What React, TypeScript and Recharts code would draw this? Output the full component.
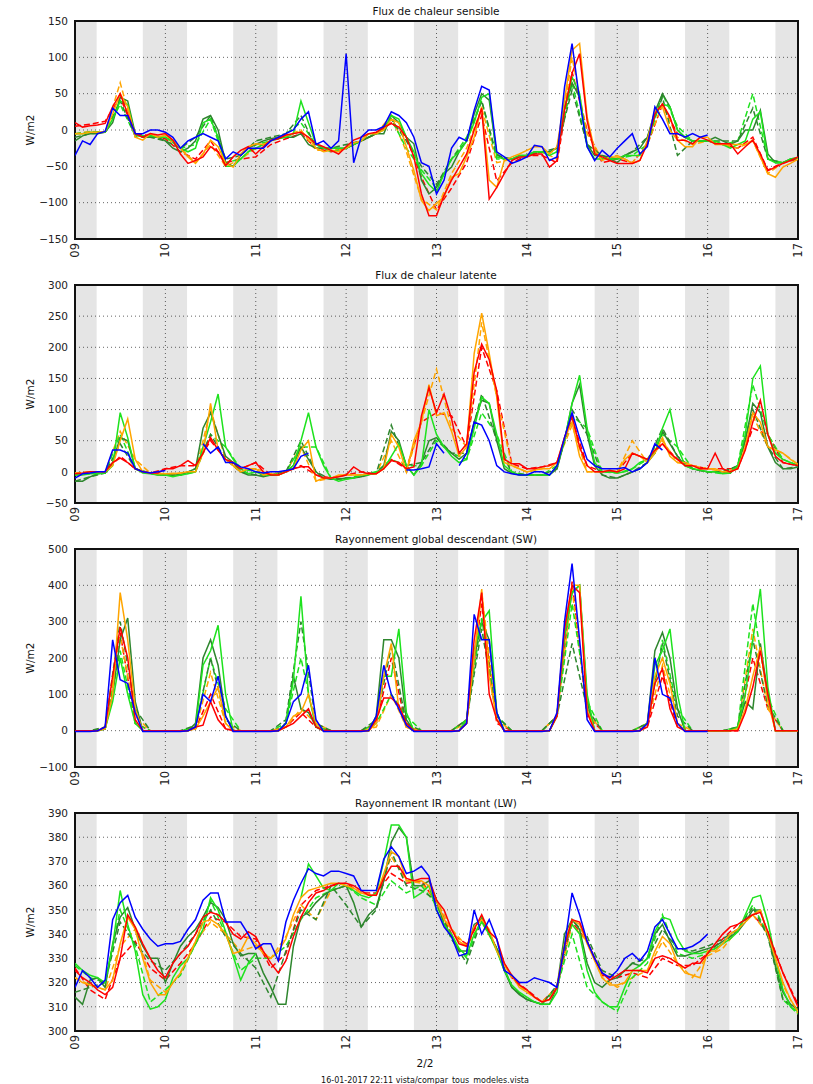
import React from "react";
import { CartesianGrid, Line, LineChart, ReferenceArea, XAxis, YAxis } from "recharts";

const _ = null;

// time axis (days of the month)
const dayTicks = [9, 10, 11, 12, 13, 14, 15, 16, 17];
const dayLabels = ["09", "10", "11", "12", "13", "14", "15", "16", "17"];
const nightStart = [9, 9.75, 10.75, 11.75, 12.75, 13.75, 14.75, 15.75, 16.75];
const nightEnd = [9.24, 10.24, 11.24, 12.24, 13.24, 14.24, 15.24, 16.24, 17];

// sample spacing of the series (2 h for solid lines, 4 h for dashed ones)
const STEP2 = 1 / 12;
const STEP4 = 1 / 6;

// ---------- Flux de chaleur sensible ----------
const sensTicks = [-150, -100, -50, 0, 50, 100, 150];
const sensBlue = [
  -35, -15, -20, -5, -2, 30, 20, 20, -5, -5, 0, 0,
  -3, -10, -25, -15, -10, -5, -10, -15, -40, -30, -35, -25,
  -25, -25, -15, -10, -5, 0, 15, 25, -20, -15, -25, -15,
  105, -45, -10, 0, 0, 5, 25, 20, 10, -10, -45, -50,
  -88, -69, -25, -10, -15, 27, 60, 55, -30, -37, -46, -42,
  -37, -21, -23, -42, -37, 59, 119, 41, -23, -42, -28, -37,
  -25, -15, -5, -33, -23, 32, 15, -5, -5, -10, -5, -10,
  -7,
];
const sensRed = [
  10, 4, 6, 7, 9, 32, 50, 22, -5, -10, -5, -7,
  -5, -14, -33, -46, -42, -37, -23, -30, -49, -37, -28, -23,
  -33, -23, -14, -12, -7, -5, -3, -10, -19, -23, -28, -33,
  -23, -14, -10, -5, -3, 4, 9, 4, -10, -37, -88, -118,
  -118, -90, -69, -51, -33, 0, 30, -95, -79, -60, -42, -37,
  -37, -33, -33, -51, -42, 27, 78, 105, 13, -33, -37, -42,
  -46, -46, -46, -42, -19, 22, 36, 18, -14, -14, -19, -10,
  -14, -19, -19, -19, -33, -23, -14, -33, -56, -51, -46, -42,
  -37,
];
const sensOrange = [
  -5, -5, -3, -3, -2, 22, 50, 32, -10, -14, -5, -10,
  -7, -14, -25, -37, -46, -33, -14, -23, -46, -51, -33, -23,
  -19, -20, -15, -10, -8, -5, -2, -10, -25, -30, -28, -30,
  -25, -18, -15, -5, -5, 0, 15, 10, -23, -56, -97, -111,
  -101, -92, -65, -60, -37, -10, 32, -69, -79, -42, -37, -33,
  -28, -23, -23, -33, -23, 41, 110, 119, 18, -28, -42, -37,
  -37, -40, -46, -42, -14, 27, 32, 0, -14, -23, -23, -10,
  -10, -20, -20, -20, -20, -20, -14, -37, -60, -65, -51, -46,
  -40,
];
const sensLime = [
  -5, -5, -3, -3, -3, 15, 40, 35, -8, -8, -8, -10,
  -10, -15, -25, -30, -25, 10, 15, -10, -50, -50, -40, -30,
  -25, -20, -15, -12, -10, -5, 40, 10, -20, -25, -25, -25,
  -25, -20, -15, -5, -5, 0, 20, 15, -10, -30, -60, -75,
  -85, -60, -40, -30, -15, 10, 45, 50, -37, -40, -40, -35,
  -35, -30, -30, -35, -30, 30, 73, 50, -23, -40, -40, -40,
  -40, -35, -35, -35, -20, 20, 36, 32, 0, -10, -15, -15,
  -15, -15, -20, -25, -20, -15, 15, 25, -40, -45, -45, -40,
  -38,
];
const sensDarkGreen = [
  -15, -8, -5, -5, -3, 10, 45, 40, -5, -10, -10, -10,
  -15, -25, -30, -25, -15, 15, 20, 0, -45, -50, -35, -25,
  -20, -15, -12, -10, -10, -10, -5, -20, -25, -25, -25, -25,
  -25, -20, -15, -10, -5, -5, 20, 10, -10, -19, -69, -88,
  -79, -60, -51, -30, -15, 22, 50, 41, -33, -40, -40, -35,
  -35, -30, -30, -30, -25, 30, 65, 45, -20, -35, -35, -40,
  -45, -35, -30, -25, -10, 25, 50, 32, 0, -10, -15, -15,
  -15, -10, -15, -20, -15, 0, 0, 27, -33, -45, -45, -40,
  -38,
];
const sensRedD = [
  5, 8, 12, 45, -5, -8,
  -12, -30, -40, -15, -45, -40,
  -37, -20, -12, -5, -25, -30,
  -25, -15, -5, 10, -10, -65,
  -110, -80, -45, 20, -70, -45,
  -35, -35, -45, 80, 0, -45,
  -40, -45, -20, 35, -5, -15,
  -15, -20, -25, -10, -55, -45,
  -40,
];
const sensOrangeD = [
  -5, -2, -3, 65, -10, -8,
  -10, -25, -45, -20, -50, -40,
  -25, -15, -8, 0, -28, -28,
  -25, -15, -5, 20, -30, -95,
  -110, -60, -25, 30, -45, -40,
  -35, -30, -40, 100, -5, -40,
  -35, -45, -20, 35, -10, -20,
  -15, -20, -25, -15, -60, -45,
  -38,
];
const sensLimeD = [
  -5, -3, -3, 35, -8, -8,
  -10, -25, -20, 15, -45, -40,
  -20, -15, -5, 10, -20, -30,
  -25, -15, -5, 15, -25, -55,
  -80, -40, -10, 40, -40, -40,
  -35, -30, -30, 65, -20, -40,
  -40, -35, -20, 50, 5, -15,
  -15, -20, -15, 50, -40, -45,
  -38,
];
const sensDarkGreenD = [
  -10, -5, -3, 40, -8, -10,
  -15, -25, -10, 20, -40, -35,
  -15, -10, -5, 20, -25, -25,
  -20, -15, -5, 15, -15, -50,
  -75, -40, -15, 40, -35, -40,
  -35, -30, -25, 55, -20, -35,
  -40, -30, -10, 45, -35, -15,
  -15, -15, -15, 30, -40, -45,
  -38,
];

// ---------- Flux de chaleur latente ----------
const latTicks = [-50, 0, 50, 100, 150, 200, 250, 300];
const latBlue = [
  -10, -3, -2, 0, 0, 35, 35, 30, 5, 0, -2, 0,
  2, _, _, _, _, 45, 30, 40, 15, 15, 8, 5,
  0, -2, 0, 0, 2, 5, 25, 30, _, _, _, _,
  _, _, _, _, _, _, _, _, 3, 3, 5, 8,
  45, 30, _, 10, 30, 80, 75, 50, 10, 0, -3, -5,
  -5, 0, 0, -5, 10, 55, 95, 55, 20, 10, 5, 5,
  5, 7, 0, 5, 15, 45, 35,
];
const latRed = [
  -3, -2, 0, 0, 0, 15, 22, 15, 5, 0, -2, -2,
  5, 5, 10, 18, 10, 30, 55, 35, 20, 15, 5, 10,
  15, 0, -5, -5, 0, 5, 8, 8, -5, -10, -10, -8,
  -5, 8, 0, -3, -3, 5, 18, 15, 5, 8, 90, 135,
  95, 125, 85, 30, 45, 160, 205, 180, 130, 20, 13, 13,
  5, 5, 8, 10, 15, 55, 90, 40, 10, 0, 0, 2,
  0, 5, 30, 25, 20, 35, 45, 30, 20, 10, 10, 5,
  5, 30, 5, 0, 5, 35, 80, 115, 60, 25, 15, 12,
  10,
];
const latOrange = [
  -2, -3, 0, 0, 0, 10, 50, 85, 20, 0, -2, -3,
  -3, -3, -2, 0, 0, 30, 110, 35, 20, 10, 0, 5,
  5, -5, -3, -5, 0, 5, 35, 50, -15, -10, -10, -5,
  -5, -5, -5, -3, -3, 5, 60, 40, 0, 50, 80, 140,
  90, 95, 65, 25, 40, 190, 255, 190, 120, 15, 10, 5,
  0, 3, 5, 5, 15, 55, 80, 25, 0, 0, 0, 3,
  0, 20, 30, 25, 15, 30, 55, 25, 15, 15, 10, 5,
  5, 5, 0, 0, 5, 40, 95, 80, 40, 35, 30, 20,
  12,
];
const latLime = [
  -5, -5, -3, -3, -2, 10, 95, 55, 5, -2, -3, -5,
  -5, -8, -5, -3, 0, 40, 80, 125, 40, 20, 5, -3,
  0, -5, -5, -5, 0, 10, 50, 95, 40, 10, -10, -15,
  -12, -10, -5, -5, 0, 5, 25, 45, 10, -5, 10, 100,
  60, 40, 25, 15, 20, 70, 120, 110, 60, 10, 0, -5,
  -5, -5, -5, -5, 10, 50, 110, 155, 70, 15, 0, 0,
  -2, 0, 5, 15, 20, 30, 70, 100, 40, 10, 5, 3,
  0, 0, -3, -2, 10, 60, 150, 170, 60, 30, 20, 15,
  10,
];
const latDarkGreen = [
  -15, -15, -8, -3, -2, 15, 55, 50, 5, 0, -2, -5,
  -5, -5, -5, 0, 5, 70, 95, 60, 25, 15, 0, -5,
  -5, -8, -5, -5, 0, 10, 40, 20, 0, -10, -12, -12,
  -10, -10, -8, -3, -2, 10, 65, 50, 10, -5, 15, 50,
  55, 40, 30, 20, 30, 80, 115, 110, 50, 5, -2, -5,
  -5, -5, -5, -5, 5, 50, 110, 140, 60, 10, -5, -10,
  -10, -5, 0, 5, 15, 30, 65, 45, 25, 10, 5, 2,
  0, 0, 0, -2, 10, 50, 110, 95, 40, 15, 5, 5,
  8,
];
const latRedD = [
  -3, 0, 0, 25, 5, -2,
  5, 10, 10, 50, 20, 5,
  15, -5, 0, 10, -5, -10,
  -5, 0, -3, 20, 5, 80,
  95, 90, 40, 200, 130, 13,
  5, 8, 15, 85, 10, 0,
  0, 30, 20, 45, 20, 10,
  5, 5, 5, 70, 60, 15,
  10,
];
const latOrangeD = [
  -2, 0, 0, 65, 20, -2,
  -3, -2, 0, 100, 20, 0,
  5, -3, 0, 40, -15, -10,
  -5, -5, -3, 50, 0, 80,
  165, 70, 40, 240, 120, 10,
  0, 5, 15, 75, 0, 0,
  0, 50, 15, 50, 15, 10,
  5, 0, 5, 90, 40, 30,
  12,
];
const latLimeD = [
  -5, -3, -2, 60, 5, -3,
  -5, -5, 0, 60, 40, 5,
  0, -5, 0, 40, 40, -10,
  -12, -5, 0, 20, 10, 10,
  50, 30, 20, 95, 60, 0,
  -5, -5, 10, 90, 70, 0,
  -2, 5, 20, 60, 40, 5,
  0, -3, 10, 140, 60, 20,
  10,
];
const latDarkGreenD = [
  -15, -8, -2, 45, 5, -2,
  -5, -5, 5, 60, 20, 0,
  -5, -5, 0, 50, 0, -12,
  -10, -8, -2, 75, 10, 15,
  55, 30, 30, 125, 50, -2,
  -5, -5, 5, 100, 60, -5,
  -10, 0, 15, 70, 25, 5,
  0, 0, 10, 100, 40, 5,
  8,
];

// ---------- Rayonnement global descendant (SW) ----------
const swTicks = [-100, 0, 100, 200, 300, 400, 500];
const swBlue = [
  -2, -2, -2, 0, 10, 250, 140, 130, 50, -2, -2, -2,
  -2, -2, -2, 0, 10, 100, 80, 150, 40, -2, -2, -2,
  -2, -2, -2, 0, 20, 80, 100, 180, 30, -2, -2, -2,
  -2, -2, -2, 0, 40, 180, 100, 60, 15, -2, -2, -2,
  -2, -2, -2, 0, 20, 320, 250, 250, 50, -2, -2, -2,
  -2, -2, -2, 0, 50, 300, 460, 250, 30, -2, -2, -2,
  -2, -2, -2, 0, 20, 200, 100, 90, 20, -2, -2, -2,
  -2,
];
const swRed = [
  0, 0, 0, 0, 10, 150, 285, 200, 30, 0, 0, 0,
  0, 0, 0, 0, 10, 15, 80, 30, 5, 0, 0, 0,
  0, 0, 0, 0, 10, 20, 40, 60, 10, 0, 0, 0,
  0, 0, 0, 0, 30, 90, 90, 70, 20, 0, 0, 0,
  0, 0, 0, 0, 20, 250, 380, 100, 30, 0, 0, 0,
  0, 0, 0, 0, 40, 280, 400, 380, 50, 0, 0, 0,
  0, 0, 0, 0, 10, 130, 170, 60, 10, 0, 0, 0,
  0, 0, 0, 0, 0, 50, 120, 220, 100, 0, 0, 0,
  0,
];
const swOrange = [
  0, 0, 0, 0, 5, 100, 380, 250, 60, 0, 0, 0,
  0, 0, 0, 0, 5, 40, 80, 120, 20, 0, 0, 0,
  0, 0, 0, 0, 10, 40, 50, 100, 20, 0, 0, 0,
  0, 0, 0, 0, 20, 150, 240, 60, 10, 0, 0, 0,
  0, 0, 0, 0, 20, 200, 390, 150, 30, 0, 0, 0,
  0, 0, 0, 0, 40, 280, 400, 400, 60, 0, 0, 0,
  0, 0, 0, 0, 20, 150, 200, 130, 20, 0, 0, 0,
  0, 0, 0, 0, 5, 60, 150, 230, 80, 0, 0, 0,
  0,
];
const swLime = [
  0, 0, 0, 0, 5, 80, 200, 100, 20, 0, 0, 0,
  0, 0, 0, 0, 10, 180, 220, 290, 100, 0, 0, 0,
  0, 0, 0, 0, 20, 140, 370, 100, 10, 0, 0, 0,
  0, 0, 0, 0, 30, 150, 150, 280, 50, 0, 0, 0,
  0, 0, 0, 0, 30, 220, 300, 330, 50, 0, 0, 0,
  0, 0, 0, 0, 40, 260, 380, 400, 100, 0, 0, 0,
  0, 0, 0, 0, 20, 180, 220, 280, 100, 0, 0, 0,
  0, 0, 0, 0, 10, 100, 250, 390, 120, 0, 0, 0,
  0,
];
const swDarkGreen = [
  0, 0, 0, 0, 5, 100, 250, 310, 80, 0, 0, 0,
  0, 0, 0, 0, 20, 200, 250, 180, 40, 0, 0, 0,
  0, 0, 0, 0, 20, 150, 60, 50, 10, 0, 0, 0,
  0, 0, 0, 0, 40, 250, 250, 200, 30, 0, 0, 0,
  0, 0, 0, 0, 30, 200, 300, 250, 50, 0, 0, 0,
  0, 0, 0, 0, 40, 260, 380, 400, 80, 0, 0, 0,
  0, 0, 0, 0, 20, 220, 270, 200, 60, 0, 0, 0,
  0, 0, 0, 0, 10, 80, 60, 240, 100, 0, 0, 0,
  0,
];
const swRedD = [
  0, 0, 5, 270, 20, 0,
  0, 0, 5, 100, 5, 0,
  0, 0, 10, 50, 10, 0,
  0, 0, 20, 200, 10, 0,
  0, 0, 30, 350, 20, 0,
  0, 0, 40, 410, 40, 0,
  0, 0, 10, 150, 10, 0,
  0, 0, 0, 200, 60, 0,
  0,
];
const swOrangeD = [
  0, 0, 5, 260, 40, 0,
  0, 0, 5, 160, 20, 0,
  0, 0, 10, 60, 20, 0,
  0, 0, 10, 100, 10, 0,
  0, 0, 20, 380, 30, 0,
  0, 0, 40, 390, 50, 0,
  0, 0, 20, 180, 20, 0,
  0, 0, 5, 280, 60, 0,
  0,
];
const swLimeD = [
  0, 0, 5, 220, 20, 0,
  0, 0, 10, 200, 60, 0,
  0, 0, 20, 200, 10, 0,
  0, 0, 20, 100, 40, 0,
  0, 0, 30, 310, 40, 0,
  0, 0, 40, 350, 80, 0,
  0, 0, 20, 250, 60, 0,
  0, 0, 10, 350, 90, 0,
  0,
];
const swDarkGreenD = [
  0, 0, 10, 300, 60, 0,
  0, 0, 15, 200, 30, 0,
  0, 0, 30, 300, 20, 0,
  0, 0, 30, 230, 20, 0,
  0, 0, 30, 280, 40, 0,
  0, 0, 40, 240, 60, 0,
  0, 0, 20, 240, 40, 0,
  0, 0, 10, 250, 70, 0,
  0,
];

// ---------- Rayonnement IR montant (LW) ----------
const lwTicks = [300, 310, 320, 330, 340, 350, 360, 370, 380, 390];
const lwBlue = [
  318, 325, 322, 318, 321, 346, 353, 356, 347, 342, 338, 335,
  336, 336, 337, 342, 346, 354, 357, 357, 345, 345, 345, 340,
  334, 336, 336, 329, 345, 354, 361, 367, 365, 364, 366, 366,
  365, 364, 358, 358, 358, 371, 376, 372, 365, 366, 368, 364,
  350, 343, 339, 331, 332, 350, 340, 346, 338, 325, 323, 320,
  320, 322, 321, 320, 318, 335, 357, 348, 337, 330, 324, 322,
  325, 330, 332, 329, 333, 343, 346, 340, 334, 334, 335, 337,
  340,
];
const lwRed = [
  325, 322, 320, 317, 315, 318, 330, 348, 343, 336, 330, 325,
  322, 328, 332, 335, 340, 347, 349, 348, 345, 340, 338, 341,
  339, 333, 328, 324, 329, 339, 347, 353, 357, 358, 360, 361,
  361, 360, 358, 356, 356, 363, 368, 368, 363, 362, 363, 363,
  354, 350, 342, 336, 335, 342, 348, 341, 338, 328, 323, 319,
  317, 314, 312, 313, 318, 335, 346, 345, 337, 330, 324, 321,
  323, 325, 325, 325, 324, 330, 331, 330, 328, 326, 328, 328,
  332, 336, 340, 343, 344, 346, 348, 349, 341, 332, 324, 317,
  310,
];
const lwOrange = [
  322, 320, 319, 318, 317, 321, 336, 347, 342, 330, 320, 315,
  315, 320, 324, 330, 337, 345, 346, 344, 340, 332, 333, 339,
  336, 332, 330, 333, 338, 348, 355, 358, 359, 360, 361, 361,
  360, 359, 357, 356, 356, 365, 374, 372, 362, 362, 362, 360,
  354, 346, 342, 337, 335, 343, 346, 342, 333, 327, 323, 318,
  316, 314, 312, 313, 318, 336, 346, 344, 336, 329, 322, 319,
  319, 320, 325, 325, 325, 333, 339, 336, 328, 324, 323, 322,
  333, 333, 336, 340, 342, 345, 348, 350, 340, 330, 320, 313,
  308,
];
const lwLime = [
  328, 325, 323, 322, 320, 335, 358, 344, 333, 315, 309, 310,
  313, 322, 327, 330, 336, 342, 355, 350, 341, 331, 321, 328,
  332, _, _, _, _, _, 355, 369, 364, 359, 358, 361,
  360, 358, 356, 355, 357, 370, 385, 385, 380, 355, 357, 360,
  350, 344, 340, 334, 331, 340, 345, 340, 333, 325, 319, 316,
  314, 312, 311, 311, 316, 336, 344, 340, 325, 316, 312, 310,
  310, 318, 325, 327, 330, 341, 347, 346, 338, 333, 332, 332,
  333, 334, 336, 338, 341, 348, 355, 356, 345, 330, 317, 310,
  308,
];
const lwDarkGreen = [
  314, 311, 321, 322, 318, 336, 347, 351, 342, 335, 330, 330,
  320, 328, 335, 339, 342, 347, 353, 351, 346, 336, 331, 332,
  332, 324, 318, 311, 311, 335, 347, 349, 353, 356, 358, 359,
  360, 353, 343, 348, 351, 362, 378, 384, 380, 360, 360, 362,
  354, 344, 339, 333, 333, 344, 346, 340, 334, 325, 318, 315,
  313, 312, 311, 311, 318, 340, 346, 342, 328, 320, 318, 321,
  322, 325, 328, 327, 330, 340, 344, 337, 331, 331, 332, 333,
  334, 335, 337, 339, 341, 345, 350, 350, 340, 327, 316, 311,
  309,
];
const lwRedD = [
  326, 317, 313, 330, 337, 326,
  321, 328, 336, 347, 345, 339,
  338, 326, 332, 352, 358, 360,
  361, 357, 357, 365, 361, 362,
  353, 340, 336, 347, 334, 322,
  317, 312, 318, 345, 337, 323,
  322, 324, 322, 330, 327, 327,
  332, 338, 344, 348, 341, 324,
  311,
];
const lwOrangeD = [
  322, 319, 317, 335, 342, 321,
  316, 324, 337, 345, 340, 333,
  335, 330, 339, 352, 346, 358,
  360, 357, 356, 372, 362, 361,
  354, 342, 335, 345, 334, 322,
  316, 312, 318, 344, 337, 322,
  318, 322, 325, 337, 328, 322,
  331, 334, 342, 348, 340, 319,
  307,
];
const lwLimeD = [
  327, 322, 320, 350, 335, 312,
  317, 323, 336, 354, 340, 325,
  330, 330, 335, 346, 355, 358,
  360, 355, 352, 362, 357, 360,
  352, 338, 330, 347, 334, 318,
  313, 311, 318, 340, 318, 312,
  308, 322, 328, 348, 332, 330,
  332, 336, 342, 352, 340, 313,
  307,
];
const lwDarkGreenD = [
  316, 318, 320, 345, 336, 329,
  325, 332, 340, 350, 339, 332,
  326, 314, 333, 350, 346, 360,
  352, 343, 350, 374, 360, 358,
  354, 338, 328, 346, 334, 318,
  313, 311, 319, 346, 339, 325,
  322, 328, 330, 342, 334, 333,
  335, 338, 342, 351, 339, 313,
  309,
];

const BLUE = "#0000ff";
const RED = "#ff0000";
const ORANGE = "#ffa500";
const LIME = "#1ee21e";
const DARKGREEN = "#2e862e";

type Pt = { t: number; v: number | null };
type Series = { key: string; values: (number | null)[]; step: number; color: string; dashed?: boolean };
type PanelDef = { title: string; ticks: number[]; series: Series[] };

const toPoints = (values: (number | null)[], step: number): Pt[] =>
  values.map((v, i) => ({ t: 9 + i * step, v }));

const makeSeries = (
  blue: (number | null)[],
  red: (number | null)[],
  orange: (number | null)[],
  lime: (number | null)[],
  dg: (number | null)[],
  redD: number[],
  orangeD: number[],
  limeD: number[],
  dgD: number[]
): Series[] => [
  { key: "redD", values: redD, step: STEP4, color: RED, dashed: true },
  { key: "orangeD", values: orangeD, step: STEP4, color: ORANGE, dashed: true },
  { key: "limeD", values: limeD, step: STEP4, color: LIME, dashed: true },
  { key: "dgD", values: dgD, step: STEP4, color: DARKGREEN, dashed: true },
  { key: "dg", values: dg, step: STEP2, color: DARKGREEN },
  { key: "lime", values: lime, step: STEP2, color: LIME },
  { key: "orange", values: orange, step: STEP2, color: ORANGE },
  { key: "red", values: red, step: STEP2, color: RED },
  { key: "blue", values: blue, step: STEP2, color: BLUE },
];

const panels: PanelDef[] = [
  {
    title: "Flux de chaleur sensible",
    ticks: sensTicks,
    series: makeSeries(sensBlue, sensRed, sensOrange, sensLime, sensDarkGreen, sensRedD, sensOrangeD, sensLimeD, sensDarkGreenD),
  },
  {
    title: "Flux de chaleur latente",
    ticks: latTicks,
    series: makeSeries(latBlue, latRed, latOrange, latLime, latDarkGreen, latRedD, latOrangeD, latLimeD, latDarkGreenD),
  },
  {
    title: "Rayonnement global descendant (SW)",
    ticks: swTicks,
    series: makeSeries(swBlue, swRed, swOrange, swLime, swDarkGreen, swRedD, swOrangeD, swLimeD, swDarkGreenD),
  },
  {
    title: "Rayonnement IR montant (LW)",
    ticks: lwTicks,
    series: makeSeries(lwBlue, lwRed, lwOrange, lwLime, lwDarkGreen, lwRedD, lwOrangeD, lwLimeD, lwDarkGreenD),
  },
];

const FONT = "DejaVu Sans, sans-serif";
const panelTops = [1, 265, 529, 793];
const PLOT_TOP = 20;
const PLOT_H = 218;

const fmtY = (v: number) => (v < 0 ? `\u2212${-v}` : `${v}`);

const XTick = (props: any) => {
  const { x, y, payload } = props;
  const label = dayLabels[dayTicks.indexOf(payload.value)];
  return (
    <text
      x={x}
      y={y}
      transform={`rotate(-90 ${x} ${y})`}
      textAnchor="end"
      dominantBaseline="central"
      fontSize={11.5}
      fill="#222"
      fontFamily={FONT}
    >
      {label}
    </text>
  );
};

function Panel({ def, top }: { def: PanelDef; top: number }) {
  const yMin = def.ticks[0];
  const yMax = def.ticks[def.ticks.length - 1];
  return (
    <div style={{ position: "absolute", left: 0, top }}>
      <LineChart width={813} height={264} margin={{ top: PLOT_TOP, right: 15, bottom: 0, left: 0 }}>
        <CartesianGrid stroke="#666" strokeDasharray="1 3" strokeWidth={1} />
        {nightStart.map((s, i) => (
          <ReferenceArea key={`n${i}`} x1={s} x2={nightEnd[i]} fill="#000" fillOpacity={0.1} stroke="none" />
        ))}
        <XAxis
          type="number"
          dataKey="t"
          domain={[9, 17]}
          ticks={dayTicks}
          interval={0}
          allowDataOverflow
          height={26}
          axisLine={false}
          tickLine={false}
          tickSize={0}
          tickMargin={4}
          tick={<XTick />}
        />
        <YAxis
          type="number"
          domain={[yMin, yMax]}
          ticks={def.ticks}
          interval={0}
          allowDataOverflow
          width={75}
          axisLine={false}
          tickLine={false}
          tickSize={0}
          tickMargin={7}
          tickFormatter={fmtY}
          tick={{ fontSize: 10.5, fill: "#222", fontFamily: FONT }}
        />
        {def.series.map((s) => (
          <Line
            key={s.key}
            data={toPoints(s.values, s.step)}
            dataKey="v"
            type="linear"
            stroke={s.color}
            strokeWidth={1.5}
            strokeDasharray={s.dashed ? "6 3" : undefined}
            dot={false}
            activeDot={false}
            connectNulls={false}
            isAnimationActive={false}
          />
        ))}
        <ReferenceArea x1={9} x2={17} y1={yMin} y2={yMax} fill="none" stroke="#111" strokeWidth={2} />
      </LineChart>
    </div>
  );
}

export default function App() {
  return (
    <div
      style={{
        position: "absolute",
        left: 0,
        top: 0,
        width: 813,
        height: 1084,
        background: "#fff",
        fontFamily: FONT,
        overflow: "hidden",
      }}
    >
      {panels.map((p, i) => (
        <Panel key={p.title} def={p} top={panelTops[i]} />
      ))}
      <svg width={813} height={1084} style={{ position: "absolute", left: 0, top: 0, pointerEvents: "none" }}>
        {panels.map((p, i) => {
          const plotTop = panelTops[i] + PLOT_TOP;
          return (
            <g key={p.title}>
              <text x={436} y={plotTop - 6} textAnchor="middle" fontSize={10.5} fill="#111" fontFamily={FONT}>
                {p.title}
              </text>
              <text
                x={30}
                y={plotTop + PLOT_H / 2}
                transform={`rotate(-90 30 ${plotTop + PLOT_H / 2})`}
                textAnchor="middle"
                dominantBaseline="central"
                fontSize={10.5}
                fill="#111"
                fontFamily={FONT}
              >
                W/m2
              </text>
            </g>
          );
        })}
        <text x={425} y={1067} textAnchor="middle" fontSize={10.5} fill="#111" fontFamily={FONT}>
          2/2
        </text>
        <text x={425} y={1083} textAnchor="middle" fontSize={8} fill="#111" fontFamily={FONT}>
          16-01-2017 22:11 vista/compar_tous_modeles.vista
        </text>
      </svg>
    </div>
  );
}
